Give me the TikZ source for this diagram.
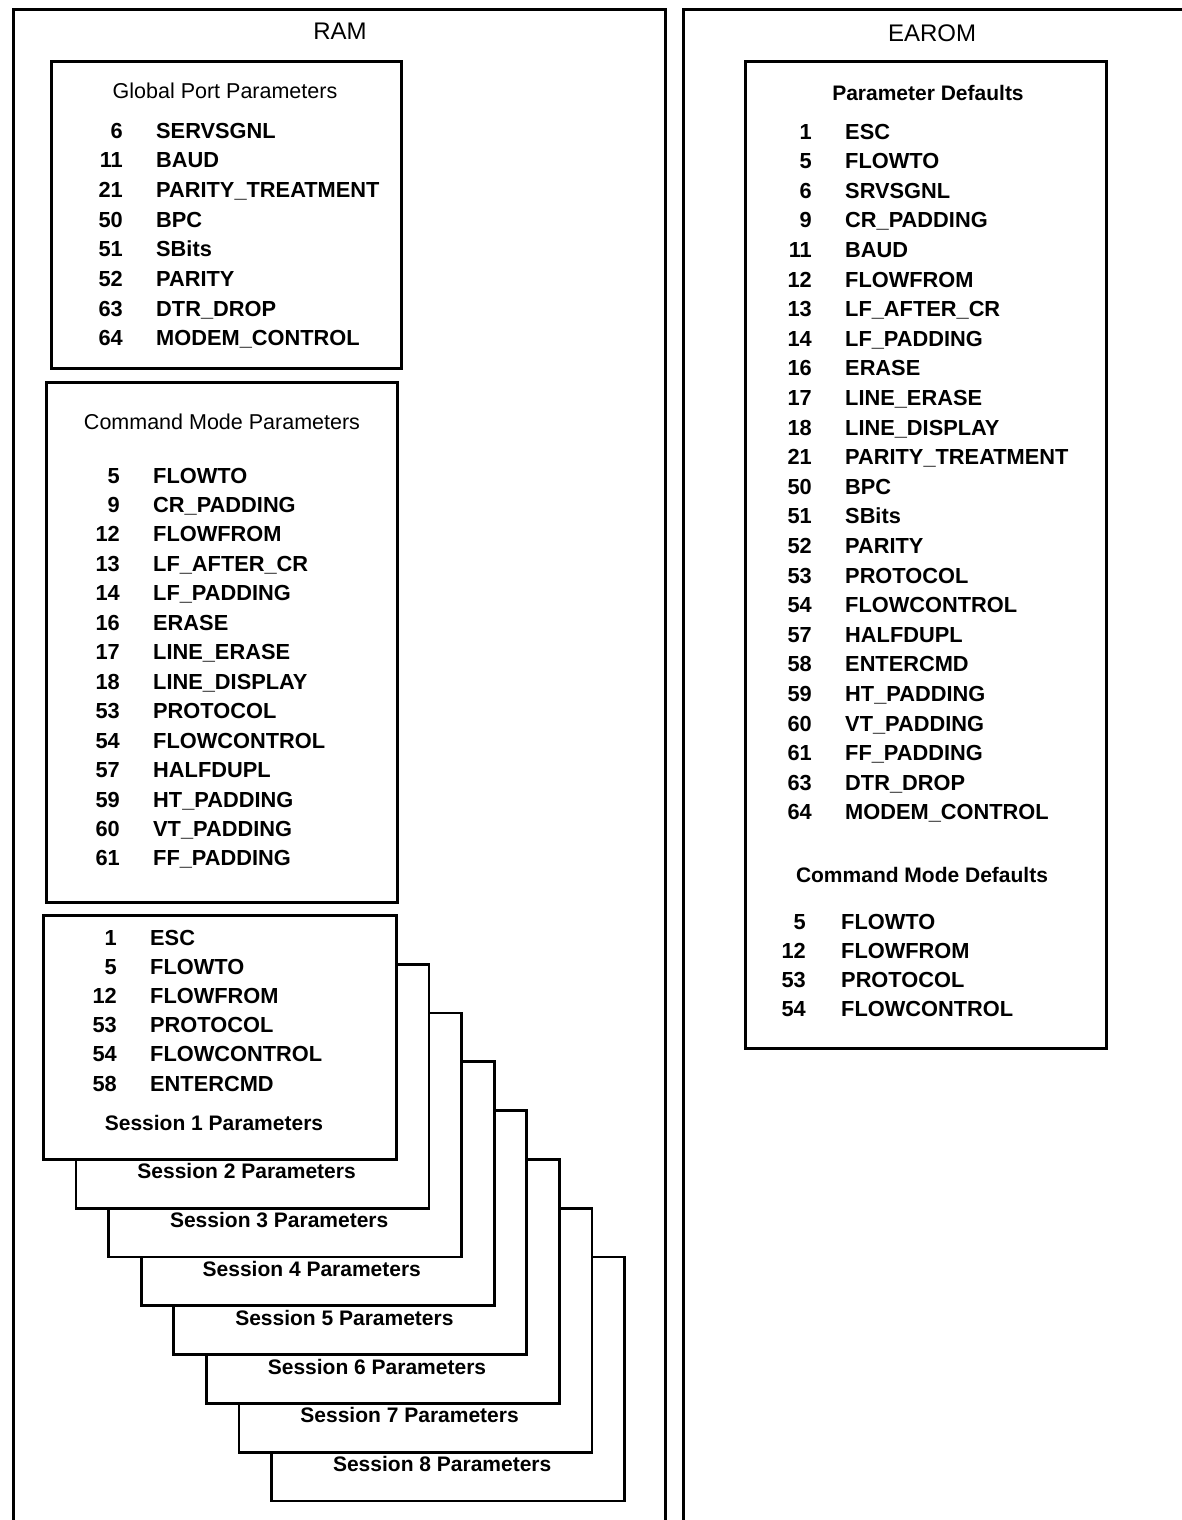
\documentclass[tikz,border=0pt]{standalone}
\usepackage{fontspec}
\setmainfont{Liberation Sans}
\begin{document}
\begin{tikzpicture}[x=1pt,y=-1pt,
  frame/.style={draw, line width=3pt},
  panel/.style={draw, line width=2.7pt, fill=white, inner sep=0pt, anchor=north west},
  memtitle/.style={font=\fontsize{24}{24}\selectfont, inner sep=0pt, anchor=base},
  heading/.style={font=\fontsize{21.5}{21.5}\selectfont, inner sep=0pt, anchor=base},
  boldhead/.style={font=\fontsize{21}{21}\selectfont\bfseries, inner sep=0pt, anchor=base},
  pnum/.style={font=\fontsize{21.8}{21.8}\selectfont\bfseries, inner sep=0pt, anchor=base east},
  pname/.style={font=\fontsize{21.8}{21.8}\selectfont\bfseries, inner sep=0pt, anchor=base west}]
\useasboundingbox (0,0) rectangle (1181,1520);
\fill[white] (0,0) rectangle (1181,1520);

% memory frames (they run off the page at the bottom / right)
\node[panel, frame, minimum width=652pt, minimum height=1540pt] (ram) at (12,8) {};
\node[panel, frame, minimum width=540pt, minimum height=1540pt] (earom) at (682,8) {};
\node[memtitle] (ramlbl) at (340,40) {RAM};
\node[memtitle] (earomlbl) at (932,42) {EAROM};

% ---------------- RAM: global port parameters
\node[panel, minimum width=350pt, minimum height=307pt] (gpp) at (50,60) {};
\node[heading] (gpptitle) at (225,99) {Global Port Parameters};
\foreach \n/\t [count=\i from 0] in {6/SERVSGNL, 11/BAUD, 21/PARITY\_TREATMENT, 50/BPC,
    51/SBits, 52/PARITY, 63/DTR\_DROP, 64/MODEM\_CONTROL} {
  \node[pnum] (gn\i) at (123,138+29.7*\i) {\n};
  \node[pname] (gt\i) at (156,138+29.7*\i) {\t};
}

% ---------------- RAM: command mode parameters
\node[panel, minimum width=351pt, minimum height=520pt] (cmp) at (45,381) {};
\node[heading] (cmptitle) at (222,429) {Command Mode Parameters};
\foreach \n/\t [count=\i from 0] in {5/FLOWTO, 9/CR\_PADDING, 12/FLOWFROM, 13/LF\_AFTER\_CR,
    14/LF\_PADDING, 16/ERASE, 17/LINE\_ERASE, 18/LINE\_DISPLAY, 53/PROTOCOL,
    54/FLOWCONTROL, 57/HALFDUPL, 59/HT\_PADDING, 60/VT\_PADDING, 61/FF\_PADDING} {
  \node[pnum] (cn\i) at (120,483+29.46*\i) {\n};
  \node[pname] (ct\i) at (153,483+29.46*\i) {\t};
}

% ---------------- RAM: stack of session parameter sheets, back to front
\foreach \k in {8,7,...,1} {
  \pgfmathsetmacro{\sx}{42+32.6*(\k-1)}
  \pgfmathsetmacro{\sy}{914+48.8*(\k-1)}
  \node[panel, minimum width=353pt, minimum height=244pt] (ses\k) at (\sx,\sy) {};
  \node[boldhead] (seslbl\k) at (\sx+172,\sy+216) {Session \k{} Parameters};
}
\foreach \n/\t [count=\i from 0] in {1/ESC, 5/FLOWTO, 12/FLOWFROM, 53/PROTOCOL,
    54/FLOWCONTROL, 58/ENTERCMD} {
  \node[pnum] (sn\i) at (117,945+29.2*\i) {\n};
  \node[pname] (st\i) at (150,945+29.2*\i) {\t};
}

% ---------------- EAROM: defaults
\node[panel, minimum width=361pt, minimum height=987pt] (pdef) at (744,60) {};
\node[boldhead] (pdeftitle) at (928,100) {Parameter Defaults};
\foreach \n/\t [count=\i from 0] in {1/ESC, 5/FLOWTO, 6/SRVSGNL, 9/CR\_PADDING, 11/BAUD,
    12/FLOWFROM, 13/LF\_AFTER\_CR, 14/LF\_PADDING, 16/ERASE, 17/LINE\_ERASE,
    18/LINE\_DISPLAY, 21/PARITY\_TREATMENT, 50/BPC, 51/SBits, 52/PARITY, 53/PROTOCOL,
    54/FLOWCONTROL, 57/HALFDUPL, 58/ENTERCMD, 59/HT\_PADDING, 60/VT\_PADDING,
    61/FF\_PADDING, 63/DTR\_DROP, 64/MODEM\_CONTROL} {
  \node[pnum] (pn\i) at (812,139+29.6*\i) {\n};
  \node[pname] (pt\i) at (845,139+29.6*\i) {\t};
}
\node[boldhead] (cdeftitle) at (922,882) {Command Mode Defaults};
\foreach \n/\t [count=\i from 0] in {5/FLOWTO, 12/FLOWFROM, 53/PROTOCOL, 54/FLOWCONTROL} {
  \node[pnum] (dn\i) at (806,929+29.3*\i) {\n};
  \node[pname] (dt\i) at (841,929+29.3*\i) {\t};
}
\end{tikzpicture}
\end{document}
